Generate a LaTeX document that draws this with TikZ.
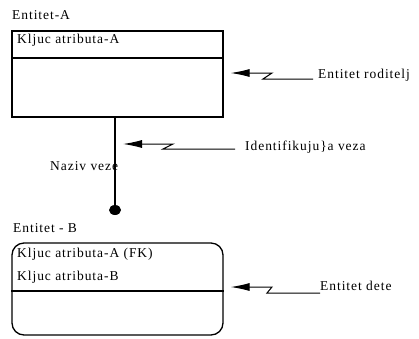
\documentclass[tikz,border=0pt]{standalone}
\usepackage{fontspec}
\setmainfont[LetterSpace=7]{Liberation Serif}
\usetikzlibrary{arrows.meta,shapes.geometric}

\begin{document}
\begin{tikzpicture}
            [
                x=1pt, y=-1pt,
                entity/.style={draw, line width=1.3pt, minimum width=211pt, inner sep=0pt},
                txt/.style={anchor=base west, inner sep=0pt, font=\fontsize{13.5}{16}\selectfont},
                callout/.style={-{Latex[length=19pt,width=8pt]}, line width=1pt},
                >=latex
            ]
            \useasboundingbox (0,0) rectangle (419,338);

            % Entitet-A
            \node [txt] (nameA) at (12,19) {Entitet-A};
            \node [entity, minimum height=86pt] (entA) at (117.5,74) {};
            \draw [line width=1.3pt] (entA.west |- 0,58) -- (entA.east |- 0,58);
            \node [txt] (keyA) at (17,43) {Kljuc atributa-A};

            % veza
            \node [ellipse, fill, minimum width=12pt, minimum height=10pt, inner sep=0pt] (dot) at (115,210) {};
            \draw [line width=1.3pt] (dot |- entA.south) -- (dot.center);
            \node [txt] (naziv) at (50,170) {Naziv veze};

            % Entitet-B
            \node [txt] (nameB) at (13,232) {Entitet - B};
            \node [entity, rounded corners=12pt, minimum height=92pt] (entB) at (117.5,289) {};
            \draw [line width=1.3pt] (entB.west |- 0,291) -- (entB.east |- 0,291);
            \node [txt] (keyFK) at (17,257) {Kljuc atributa-A (FK)};
            \node [txt] (keyB) at (17,280) {Kljuc atributa-B};

            % callouts
            \node [txt] (rod) at (318,78) {Entitet roditelj};
            \coordinate (rodTip) at ([xshift=7pt,yshift=1pt]entA.east);
            \draw [callout] ([xshift=-5pt,yshift=-1pt]rod.base west) -- ++(-50,0) -- ++(9,-6) -- (rodTip);

            \node [txt] (ident) at (245,150) {Identifikuju\}a veza};
            \coordinate (idTip) at (123,144);
            \draw [callout] ([xshift=-10pt,yshift=1pt]ident.base west) -- ++(-72,0) -- ++(10,-5) -- (idTip);

            \node [txt] (dete) at (320,290) {Entitet dete};
            \coordinate (deteTip) at ([xshift=7pt,yshift=2pt]entB.east);
            \draw [callout] ([yshift=-3pt]dete.base west) -- ++(-53,0) -- ++(5,-6) -- (deteTip);
\end{tikzpicture}
\end{document}
